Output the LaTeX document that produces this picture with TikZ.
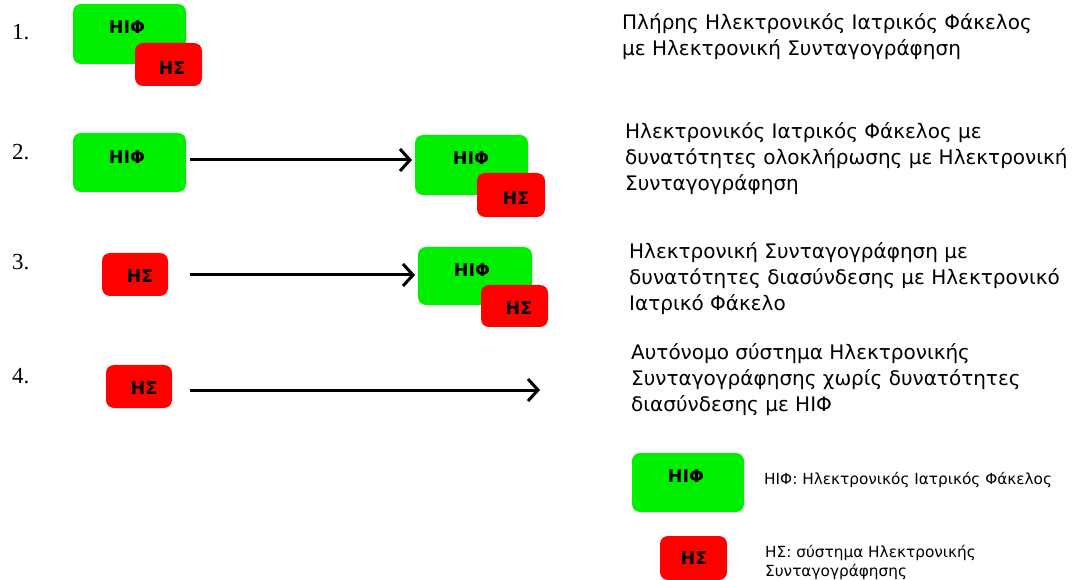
\documentclass[tikz,border=0pt]{standalone}
\usepackage{fontspec}
\setmainfont{DejaVu Sans}
\newfontfamily\numfont{Liberation Serif}
\usetikzlibrary{arrows.meta}
\tikzset{
  hif/.style={fill={rgb,255:red,0;green,238;blue,0}, rounded corners=8pt, inner sep=0pt},
  hs/.style={fill={rgb,255:red,255;green,0;blue,0}, rounded corners=8pt, inner sep=0pt},
  boxlabel/.style={font=\fontsize{17.5}{17.5}\selectfont\bfseries, inner sep=0pt},
  num/.style={font=\numfont\fontsize{23}{23}\selectfont, inner sep=0pt, anchor=west},
  desc/.style={font=\fontsize{20}{26}\selectfont, align=left, anchor=north west, inner sep=0pt},
  legtext/.style={font=\fontsize{15.3}{19.5}\selectfont, align=left, anchor=north west, inner sep=0pt},
  conn/.style={line width=3pt, -{Straight Barb[length=10pt,width=22pt,line width=3pt]}},
}
\begin{document}
\begin{tikzpicture}[x=1pt,y=-1pt]
\useasboundingbox (0,0) rectangle (1072,580);
% Row 1
\node[num] (n1) at (12,32) {1.};
\fill[hif] (73,4) rectangle (186,64);
\node[boxlabel] (h1) at (127,27) {ΗΙΦ};
\fill[hs] (135,43) rectangle (202,86);
\node[boxlabel] (s1) at (172,68) {ΗΣ};
\node[desc] (d1) at (622,13) {Πλήρης Ηλεκτρονικός Ιατρικός Φάκελος\\με Ηλεκτρονική Συνταγογράφηση};
% Row 2
\node[num] (n2) at (12,152) {2.};
\fill[hif] (73,133) rectangle (186,192);
\node[boxlabel] (h2a) at (127,157) {ΗΙΦ};
\fill[hif] (415,135) rectangle (528,195);
\node[boxlabel] (h2b) at (471,158) {ΗΙΦ};
\fill[hs] (477,173) rectangle (545,217);
\node[boxlabel] (s2) at (516,198) {ΗΣ};
\coordinate (a2s) at (190,160);
\coordinate (a2e) at (412,160);
\draw[conn] (a2s) -- (a2e);
\node[desc] (d2) at (625,122) {Ηλεκτρονικός Ιατρικός Φάκελος με\\δυνατότητες ολοκλήρωσης με Ηλεκτρονική\\Συνταγογράφηση};
% Row 3
\node[num] (n3) at (12,262) {3.};
\fill[hs] (102,253) rectangle (168,296);
\node[boxlabel] (s3a) at (140,276) {ΗΣ};
\fill[hif] (418,247) rectangle (532,305);
\node[boxlabel] (h3) at (472,270) {ΗΙΦ};
\fill[hs] (481,285) rectangle (548,327);
\node[boxlabel] (s3b) at (519,308) {ΗΣ};
\coordinate (a3s) at (190,275);
\coordinate (a3e) at (415,275);
\draw[conn] (a3s) -- (a3e);
\node[desc] (d3) at (629,242) {Ηλεκτρονική Συνταγογράφηση με\\δυνατότητες διασύνδεσης με Ηλεκτρονικό\\Ιατρικό Φάκελο};
% Row 4
\node[num] (n4) at (12,376) {4.};
\fill[hs] (106,365) rectangle (172,408);
\node[boxlabel] (s4) at (144,388) {ΗΣ};
\coordinate (a4s) at (190,390);
\coordinate (a4e) at (540,390);
\draw[conn] (a4s) -- (a4e);
\node[desc] (d4) at (631,343) {Αυτόνομο σύστημα Ηλεκτρονικής\\Συνταγογράφησης χωρίς δυνατότητες\\διασύνδεσης με ΗΙΦ};
% Legend
\fill[hif] (632,453) rectangle (744,512);
\node[boxlabel] (lh) at (686,476) {ΗΙΦ};
\node[legtext] (lht) at (764,472) {ΗΙΦ: Ηλεκτρονικός Ιατρικός Φάκελος};
\fill[hs] (660,536) rectangle (727,580);
\node[boxlabel] (ls) at (694,558) {ΗΣ};
\node[legtext] (lst) at (765,545) {ΗΣ: σύστημα Ηλεκτρονικής\\Συνταγογράφησης};
\end{tikzpicture}
\end{document}
